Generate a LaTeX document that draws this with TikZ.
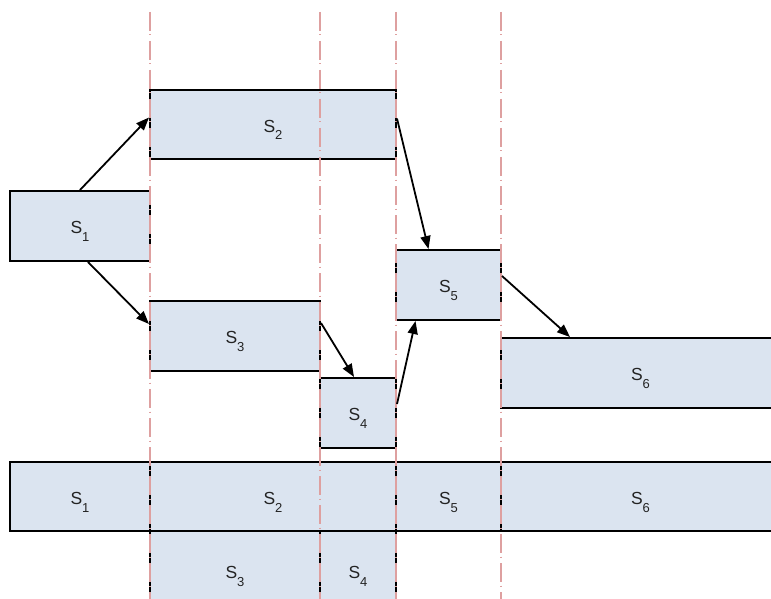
\documentclass[tikz,border=0pt]{standalone}
\usepackage{fontspec}
\setmainfont{Liberation Sans}
\usetikzlibrary{arrows.meta,calc}
\definecolor{boxfill}{RGB}{219,228,240}
\definecolor{gridpink}{RGB}{222,160,160}
\definecolor{labelgray}{RGB}{35,35,35}
\newcommand{\stage}[1]{\fontsize{17.5}{20}\selectfont S\raisebox{-8pt}{\fontsize{13}{14}\selectfont #1}}
\tikzset{
  stagebox/.style={draw=black, line width=2pt, fill=boxfill, inner sep=0pt,
    text=labelgray, anchor=center, text height=15pt, text depth=0pt},
  boundary/.style={gridpink, line width=2pt,
    dash pattern=on 19pt off 3.5pt on 1pt off 5.5pt},
  link/.style={black, line width=1.8pt, -{Triangle[length=13pt,width=10pt]}},
}
\begin{document}
\begin{tikzpicture}[x=1pt,y=-1pt]
  \useasboundingbox (0,0) rectangle (771,599);
  \clip (0,0) rectangle (771,599);
  \fill[white] (0,0) rectangle (771,599);

  % network of stages
  \node[stagebox, minimum width=140pt, minimum height=70pt] (s1) at (80,226) {\stage{1}};
  \node[stagebox, minimum width=246pt, minimum height=69pt] (s2) at (273,124.5) {\stage{2}};
  \node[stagebox, minimum width=170pt, minimum height=70pt] (s3) at (235,336) {\stage{3}};
  \node[stagebox, minimum width=76pt, minimum height=70pt] (s4) at (358,413) {\stage{4}};
  \node[stagebox, minimum width=105pt, minimum height=70pt] (s5) at (448.5,285) {\stage{5}};
  \node[stagebox, minimum width=279pt, minimum height=70pt] (s6) at (640.5,373) {\stage{6}};

  % combined timeline
  \node[stagebox, minimum width=140pt, minimum height=69pt] (t1) at (80,496.5) {\stage{1}};
  \node[stagebox, minimum width=246pt, minimum height=69pt] (t2) at (273,496.5) {\stage{2}};
  \node[stagebox, minimum width=105pt, minimum height=69pt] (t5) at (448.5,496.5) {\stage{5}};
  \node[stagebox, minimum width=279pt, minimum height=69pt] (t6) at (640.5,496.5) {\stage{6}};
  \node[stagebox, minimum width=170pt, minimum height=80pt] (t3) at (235,571) {\stage{3}};
  \node[stagebox, minimum width=76pt, minimum height=80pt] (t4) at (358,571) {\stage{4}};

  % time boundaries
  \foreach \bx in {150,320,396,501}
    \draw[boundary] (\bx,12) -- (\bx,605);

  % precedence links
  \draw[link] (s1.north) -- ($(s2.west)+(0,-7)$);
  \draw[link] ($(s1.south)+(8,0)$) -- ($(s3.west)+(0,-12)$);
  \draw[link] ($(s2.east)+(0,-6)$) -- ($(s5.north)+(-20,0)$);
  \draw[link] ($(s3.east)+(0,-13)$) -- ($(s4.north)+(-4,0)$);
  \draw[link] ($(s4.east)+(0,-9)$) -- ($(s5.south)+(-33,0)$);
  \draw[link] ($(s5.east)+(0,-9)$) -- ($(s6.north west)+(70,0)$);
\end{tikzpicture}
\end{document}
